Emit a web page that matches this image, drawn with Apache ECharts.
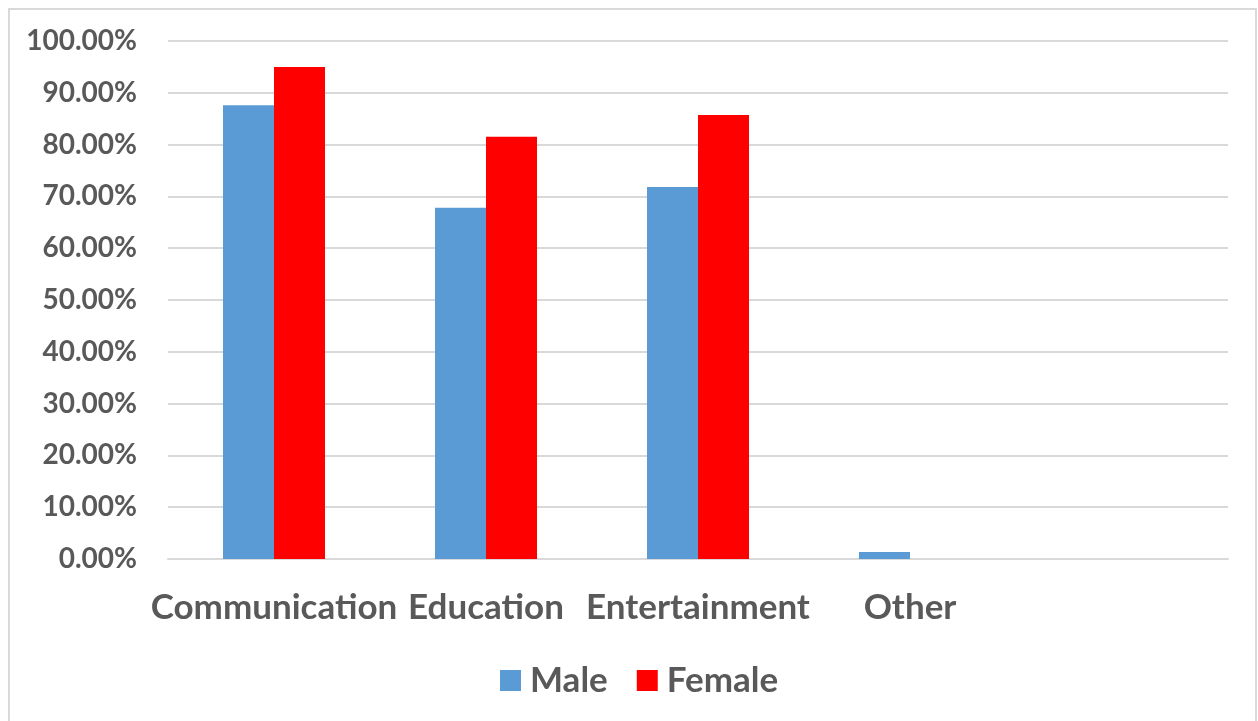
<!DOCTYPE html>
<html>
<head>
<meta charset="utf-8">
<script src="https://cdn.jsdelivr.net/npm/echarts@6/dist/echarts.min.js"></script>
<style>html,body{margin:0;padding:0;background:#fff;}#c{width:1258px;height:721px;}</style>
</head>
<body>
<div id="c"></div>
<script>
const categories = ['Communication', 'Education', 'Entertainment', 'Other', ''];
const maleValues = [87.6, 67.8, 71.8, 1.35, null];
const femaleValues = [95.0, 81.5, 85.7, 0, null];
const seriesNames = ['Male', 'Female'];

const chart = echarts.init(document.getElementById('c'));
const FONT = 'Lato, "Open Sans", sans-serif';
chart.setOption({
  backgroundColor: '#ffffff',
  animation: false,
  graphic: [{
    type: 'rect', shape: {x: 9, y: 9, width: 1247, height: 730},
    style: {fill: 'none', stroke: '#d9d9d9', lineWidth: 2}, silent: true
  }],
  grid: {left: 168, right: 30, top: 41, bottom: 162, containLabel: false},
  legend: {
    data: seriesNames, top: 658, left: 495,
    itemWidth: 21, itemHeight: 21, itemGap: 29,
    textStyle: {color: '#595959', fontSize: 35, fontWeight: 'bold', fontFamily: FONT, padding: [0, 0, 0, 4]},
    icon: 'rect'
  },
  xAxis: {
    type: 'category', data: categories,
    axisLine: {lineStyle: {color: '#d9d9d9', width: 2}},
    axisTick: {show: false},
    axisLabel: {color: '#595959', fontSize: 35, fontWeight: 'bold', fontFamily: FONT, margin: 31, interval: 0}
  },
  yAxis: {
    type: 'value', min: 0, max: 100, interval: 10,
    axisLine: {show: false}, axisTick: {show: false},
    splitLine: {lineStyle: {color: '#d9d9d9', width: 2}},
    axisLabel: {color: '#595959', fontSize: 28, fontWeight: 'bold', fontFamily: FONT, margin: 31,
      formatter: v => v.toFixed(2) + '%'}
  },
  series: [
    {name: seriesNames[0], type: 'bar', data: maleValues, barWidth: 51, barGap: '0%', itemStyle: {color: '#5b9bd5'}},
    {name: seriesNames[1], type: 'bar', data: femaleValues, barWidth: 51, barGap: '0%', itemStyle: {color: '#ff0000'}}
  ]
});
</script>
</body>
</html>
